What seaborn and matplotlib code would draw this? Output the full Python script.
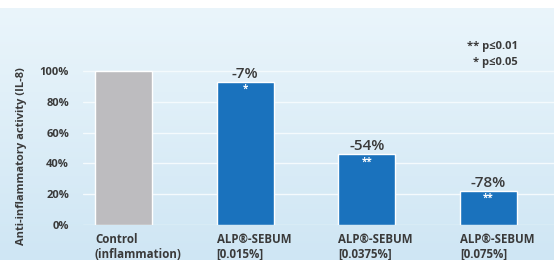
import numpy as np
import pandas as pd
import matplotlib
matplotlib.use("Agg")
import matplotlib.pyplot as plt
import seaborn as sns
from matplotlib.colors import LinearSegmentedColormap

categories = ["Control\n(inflammation)", "ALP®-SEBUM\n[0.015%]", "ALP®-SEBUM\n[0.0375%]", "ALP®-SEBUM\n[0.075%]"]
values = [100, 93, 46, 22]
change_labels = ["", "-7%", "-54%", "-78%"]
sig_marks = ["", "*", "**", "**"]
yticks = [0, 20, 40, 60, 80, 100]
ytick_labels = ["0%", "20%", "40%", "60%", "80%", "100%"]
bar_colors = ["#bdbcbf", "#1a72bd"]

sns.set_theme(style="white")
plt.rcParams['font.family'] = ['Open Sans', 'DejaVu Sans']
txt = "#3a3a3a"

W, H = 554, 260
fig = plt.figure(figsize=(W / 100, H / 100), dpi=100)
fig.patch.set_facecolor("white")

# background gradient panel
bg = fig.add_axes([0, 0, 1, 1 - 8 / H])
grad = np.linspace(0, 1, 256).reshape(-1, 1)
cmap = LinearSegmentedColormap.from_list("bg", ["#eaf5fb", "#cfe6f4"])
bg.imshow(grad, aspect="auto", cmap=cmap, extent=[0, 1, 0, 1], origin="upper")
bg.set_axis_off()

left, right = 83, 554
bottom_px, top_px = 225, 8
ax = fig.add_axes([left / W, 1 - bottom_px / H, (right - left) / W, (bottom_px - top_px) / H])
ax.patch.set_alpha(0)

df = pd.DataFrame({"cat": categories, "val": values})
palette = [bar_colors[0]] + [bar_colors[1]] * (len(categories) - 1)
bw = 0.47
sns.barplot(data=df, x="cat", y="val", hue="cat", palette=palette, legend=False,
            width=bw, saturation=1, ax=ax, zorder=3)

ppu = 121.7
ax.set_xlim(-(123.5 - left) / ppu, 3 + (right - 488.5) / ppu)
ax.set_ylim(0, (bottom_px - top_px) / 1.54)

for y in yticks:
    ax.axhline(y, color="#f4fafd", lw=1.0, zorder=1)

ax.set_yticks(yticks)
ax.set_yticklabels(ytick_labels, fontsize=8, fontweight="bold", color=txt)
ax.tick_params(axis="y", length=0, pad=10)

ax.set_xticks(np.arange(len(categories)) - bw / 2)
ax.set_xticklabels(categories, ha="left", fontsize=8.3, fontweight="bold", color=txt, linespacing=1.15)
ax.tick_params(axis="x", length=0, pad=6)
ax.set_xlabel("")
ax.set_ylabel("")
for s in ax.spines.values():
    s.set_visible(False)

for i, (v, lab, sm) in enumerate(zip(values, change_labels, sig_marks)):
    if lab:
        ax.annotate(lab, (i, v), xytext=(0, 0.5), textcoords="offset points",
                    ha="center", va="bottom", fontsize=11, fontweight="semibold", color=txt)
    if sm:
        ax.annotate(sm, (i, v), xytext=(0, -1.5), textcoords="offset points",
                    ha="center", va="top", fontsize=7, fontweight="bold", color="white")

fig.text(22 / W, 1 - 156 / H, "Anti-inflammatory activity (IL-8)", rotation=90,
         ha="center", va="center", fontsize=8, fontweight="bold", color=txt)
fig.text(518 / W, 1 - 46 / H, "** p≤0.01", ha="right", va="center",
         fontsize=8, fontweight="bold", color=txt)
fig.text(518 / W, 1 - 62 / H, "* p≤0.05", ha="right", va="center",
         fontsize=8, fontweight="bold", color=txt)

fig.savefig("out.png", dpi=100)
